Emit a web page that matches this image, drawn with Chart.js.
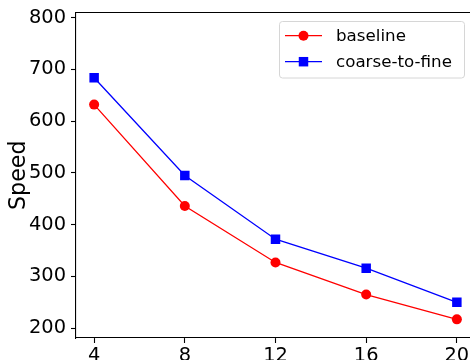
<!DOCTYPE html>
<html>
<head>
<meta charset="utf-8">
<script src="https://cdn.jsdelivr.net/npm/chart.js@4.4.1/dist/chart.umd.min.js"></script>
<style>
  html, body { margin: 0; padding: 0; background: #fff; overflow: hidden; }
  .chart { position: relative; width: 482px; height: 360px; }
</style>
</head>
<body>
<div class="chart"><canvas id="speed"></canvas></div>
<script>
const xValues = [4, 8, 12, 16, 20]
const baseline = [632, 436, 327, 265, 217]
const coarseToFine = [684, 495, 372, 316, 250]
const yTicks = [200, 300, 400, 500, 600, 700, 800]
const seriesNames = ['baseline', 'coarse-to-fine']

const FONT = "'DejaVu Sans', sans-serif"

const toPoints = (ys) => xValues.map((x, i) => ({ x: x, y: ys[i] }))

// matplotlib-like frame (top spine) and legend box
const frameAndLegend = {
  id: 'frameAndLegend',
  afterDraw(chart) {
    const { ctx, chartArea } = chart
    ctx.save()
    ctx.strokeStyle = '#000'
    ctx.lineWidth = 1.1
    ctx.beginPath()
    ctx.moveTo(chartArea.left, chartArea.top)
    ctx.lineTo(chartArea.right, chartArea.top)
    ctx.lineTo(chartArea.right, chartArea.bottom)
    ctx.stroke()

    // legend
    const bx = 279.5, by = 21.5, bw = 185, bh = 56.5, r = 3
    ctx.beginPath()
    ctx.roundRect(bx, by, bw, bh, r)
    ctx.fillStyle = 'rgba(255,255,255,0.8)'
    ctx.fill()
    ctx.strokeStyle = '#d6d6d6'
    ctx.lineWidth = 1
    ctx.stroke()

    const rows = [35.7, 61.7]
    chart.data.datasets.forEach((ds, i) => {
      const y = rows[i]
      ctx.strokeStyle = ds.borderColor
      ctx.lineWidth = ds.borderWidth
      ctx.beginPath()
      ctx.moveTo(285, y)
      ctx.lineTo(322, y)
      ctx.stroke()
      ctx.fillStyle = ds.backgroundColor
      Chart.helpers.drawPoint(ctx, { pointStyle: ds.pointStyle, radius: ds.pointRadius, borderWidth: 0 }, 303.5, y)
      ctx.fillStyle = '#000'
      ctx.font = '16.7px ' + FONT
      ctx.textBaseline = 'middle'
      ctx.textAlign = 'left'
      ctx.fillText(ds.label, 336, y + 0.5)
    })
    ctx.restore()
  },
}

new Chart(document.getElementById('speed'), {
  type: 'line',
  data: {
    datasets: [
      {
        label: seriesNames[0],
        data: toPoints(baseline),
        borderColor: '#ff0000',
        backgroundColor: '#ff0000',
        borderWidth: 1.3,
        pointStyle: 'circle',
        pointRadius: 5,
        pointBorderWidth: 0,
      },
      {
        label: seriesNames[1],
        data: toPoints(coarseToFine),
        borderColor: '#0000ff',
        backgroundColor: '#0000ff',
        borderWidth: 1.3,
        pointStyle: 'rect',
        pointRadius: 6.7,
        pointBorderWidth: 0,
      },
    ],
  },
  options: {
    responsive: true,
    maintainAspectRatio: false,
    animation: false,
    layout: { padding: { top: 12.5, right: 7, left: 0, bottom: 0 } },
    plugins: {
      legend: { display: false },
      tooltip: { enabled: false },
    },
    scales: {
      x: {
        type: 'linear',
        min: 3.2,
        max: 20.8,
        afterBuildTicks: (scale) => { scale.ticks = xValues.map((v) => ({ value: v })) },
        afterFit: (scale) => {
          scale.height = 22
          scale.paddingLeft = 0
          scale.paddingRight = 0
        },
        grid: { drawOnChartArea: false, drawTicks: true, tickLength: 5, tickColor: '#000', tickWidth: 1.1 },
        border: { display: true, color: '#000', width: 1.1 },
        ticks: { color: '#000', font: { family: FONT, size: 19.4 }, padding: 1, maxRotation: 0 },
      },
      y: {
        min: 181,
        max: 810,
        afterBuildTicks: (scale) => { scale.ticks = yTicks.map((v) => ({ value: v })) },
        afterFit: (scale) => {
          scale.width = 76
          scale.paddingTop = 0
          scale.paddingBottom = 0
        },
        grid: { drawOnChartArea: false, drawTicks: true, tickLength: 5, tickColor: '#000', tickWidth: 1.1 },
        border: { display: true, color: '#000', width: 1.1 },
        ticks: { color: '#000', font: { family: FONT, size: 19.4 }, padding: 5 },
        title: {
          display: true,
          text: 'Speed',
          color: '#000',
          font: { family: FONT, size: 22.2 },
          padding: { top: 5.5, bottom: 0 },
        },
      },
    },
  },
  plugins: [frameAndLegend],
})
</script>
</body>
</html>
